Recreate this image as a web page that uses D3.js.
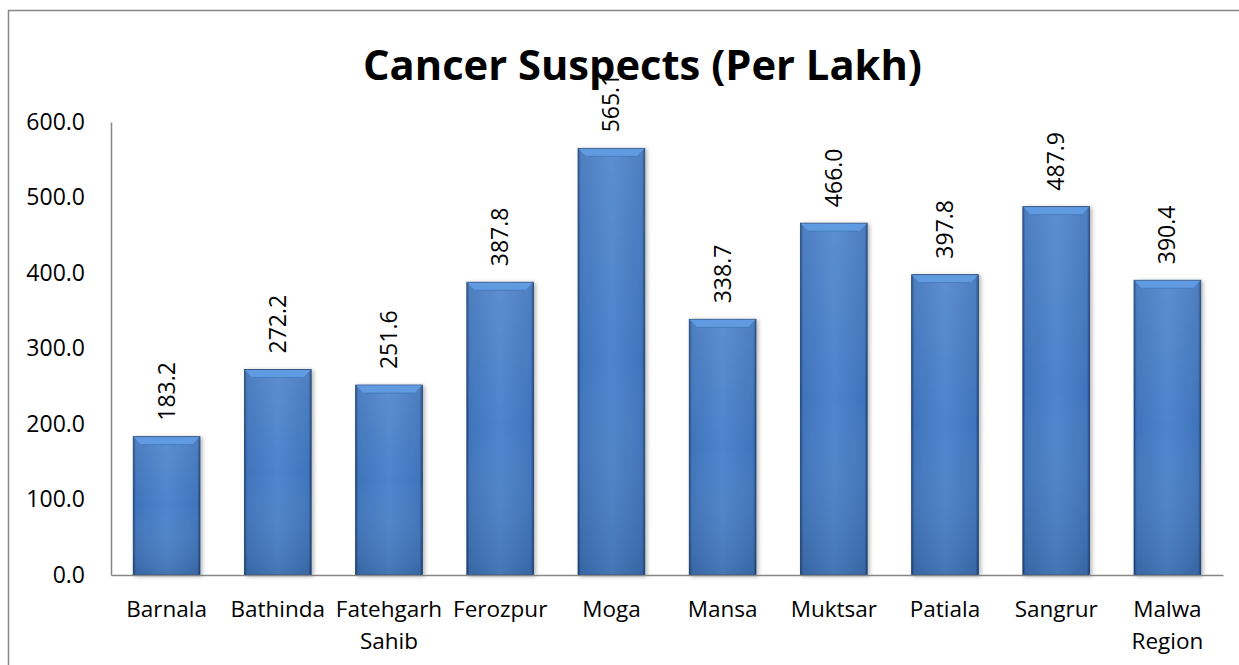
<!DOCTYPE html>
<html><head><meta charset="utf-8">
<script src="https://cdn.jsdelivr.net/npm/d3@7"></script>
<style>
body{margin:0;background:#fff;}
svg{display:block;}
text{font-family:"Open Sans", "Noto Sans", sans-serif;fill:#000;}
</style></head>
<body>
<svg id="chart" width="1239" height="665"></svg>
<script>
const categories = ["Barnala","Bathinda","Fatehgarh Sahib","Ferozpur","Moga","Mansa","Muktsar","Patiala","Sangrur","Malwa Region"];
const categoryLines = [["Barnala"],["Bathinda"],["Fatehgarh","Sahib"],["Ferozpur"],["Moga"],["Mansa"],["Muktsar"],["Patiala"],["Sangrur"],["Malwa","Region"]];
const values = [183.2,272.2,251.6,387.8,565.1,338.7,466.0,397.8,487.9,390.4];
const yTicks = [0,100,200,300,400,500,600];
const title = "Cancer Suspects (Per Lakh)";

const svg = d3.select("#chart");
const W = 1239, H = 665;
const m = {left:111, right:16, top:122, bottom:90};
const x = d3.scaleBand().domain(categories).range([m.left, W - m.right]).paddingInner(0.4).paddingOuter(0.2);
const y = d3.scaleLinear().domain([0,600]).range([H - m.bottom, m.top]);

// chart border
svg.append("path").attr("d", `M8.5,${H} V10.5 H${W}`).attr("fill","none").attr("stroke","#878787").attr("stroke-width",1.5);

const defs = svg.append("defs");
const g1 = defs.append("linearGradient").attr("id","barH").attr("x1","0").attr("x2","1").attr("y1","0").attr("y2","0");
[[0,"#1f477f"],[0.04,"#3f74bb"],[0.5,"#4e85cd"],[0.96,"#3f74bb"],[1,"#1f477f"]].forEach(d=>g1.append("stop").attr("offset",d[0]).attr("stop-color",d[1]));
const g2 = defs.append("linearGradient").attr("id","barV").attr("x1","0").attr("x2","0").attr("y1","0").attr("y2","1");
[[0,"#ffffff",0.08],[0.5,"#ffffff",0],[1,"#000000",0.12]].forEach(d=>g2.append("stop").attr("offset",d[0]).attr("stop-color",d[1]).attr("stop-opacity",d[2]));
const shadow = defs.append("filter").attr("id","sh").attr("x","-20%").attr("y","-5%").attr("width","140%").attr("height","110%");
shadow.append("feGaussianBlur").attr("in","SourceAlpha").attr("stdDeviation",2);
shadow.append("feOffset").attr("dx",2).attr("dy",1).attr("result","b");
shadow.append("feComponentTransfer").append("feFuncA").attr("type","linear").attr("slope",0.3);
const fm = shadow.append("feMerge"); fm.append("feMergeNode"); fm.append("feMergeNode").attr("in","SourceGraphic");

// axes
const yAxis = svg.append("g").attr("transform",`translate(${m.left},0)`)
  .call(d3.axisLeft(y).tickValues(yTicks).tickFormat(d3.format(".1f")).tickSize(0).tickPadding(26));
yAxis.select(".domain").attr("stroke","#868686").attr("stroke-width",1.5);
yAxis.selectAll("text").attr("font-size",23).attr("font-family",null);

const bw = x.bandwidth();
const bars = svg.append("g").selectAll("g").data(values).join("g").attr("filter","url(#sh)");
bars.append("rect").attr("x",(d,i)=>x(categories[i])).attr("y",d=>y(d)).attr("width",bw).attr("height",d=>y(0)-y(d))
  .attr("fill","url(#barH)").attr("stroke","#1c3f70").attr("stroke-width",0.8);
bars.append("rect").attr("x",(d,i)=>x(categories[i])).attr("y",d=>y(d)).attr("width",bw).attr("height",d=>y(0)-y(d))
  .attr("fill","url(#barV)");
// top bevel
bars.append("path").attr("d",(d,i)=>{const x0=x(categories[i]), y0=y(d), b=8;
  return `M${x0+0.5},${y0+0.5} H${x0+bw-0.5} L${x0+bw-b},${y0+b} H${x0+b} Z`;})
  .attr("fill","#619ae0");
bars.append("path").attr("d",(d,i)=>{const x0=x(categories[i]), y0=y(d), b=8;
  return `M${x0+b},${y0+b} H${x0+bw-b}`;})
  .attr("stroke","#4276bb").attr("stroke-width",0.8).attr("fill","none");

const xAxis = svg.append("g").attr("transform",`translate(0,${y(0)})`)
  .call(d3.axisBottom(x).tickSize(0).tickFormat(""));
xAxis.select(".domain").attr("stroke","#868686").attr("stroke-width",1.5);
xAxis.selectAll(".tick").each(function(d,i){
  const t = d3.select(this).append("text").attr("font-size",22.5).attr("text-anchor","middle").attr("y",42);
  categoryLines[i].forEach((ln,j)=>t.append("tspan").attr("x",0).attr("dy",j?32:0).text(ln));
});

// value labels
svg.append("g").selectAll("text").data(values).join("text")
  .attr("transform",(d,i)=>`translate(${x(categories[i])+bw/2},${y(d)-16}) rotate(-90)`)
  .attr("dy","0.35em").attr("font-size",23).attr("text-anchor","start")
  .text(d=>d3.format(".1f")(d));

const tt = svg.append("text").attr("x",642.5).attr("y",80).attr("text-anchor","middle").attr("font-size",44).attr("font-weight","bold").text(title);
const len = tt.node().getComputedTextLength();
if (len > 0) tt.attr("font-size", 44 * 559 / len);
</script>
</body></html>
